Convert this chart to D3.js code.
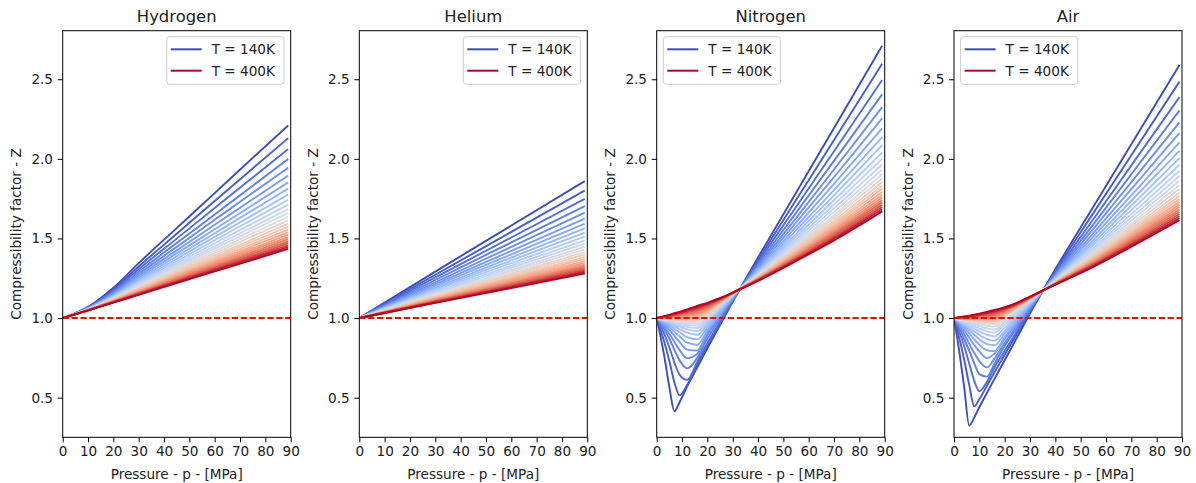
<!DOCTYPE html>
<html>
<head>
<meta charset="utf-8">
<script src="https://cdn.jsdelivr.net/npm/d3@7"></script>
<style>
  body { margin: 0; background: #fff; }
  text { font-family: "DejaVu Sans", sans-serif; }
</style>
</head>
<body>
<div id="chart"></div>
<script>
// ---- data ----
var gasNames = ["Hydrogen", "Helium", "Nitrogen", "Air"];
var temps = [140, 150, 160, 170, 180, 190, 200, 210, 220, 230, 240, 250, 260, 270,
             280, 290, 300, 310, 320, 330, 340, 350, 360, 370, 380, 390, 400];
var xTicks = [0, 10, 20, 30, 40, 50, 60, 70, 80, 90];
var yTicks = [0.5, 1.0, 1.5, 2.0, 2.5];

// pressure samples (MPa) for each gas
var pressH2 = [0, 10, 20, 30, 45, 60, 75, 89];
var pressHe = [0, 30, 60, 89];
var pressN2 = [0, 3, 5, 7, 9, 12, 16, 20, 25, 30, 40, 55, 70, 89];
var pressAir = [0, 2, 4, 6, 8, 10, 13, 16, 20, 25, 30, 40, 55, 70, 89];

// Z, one row per temperature
var zH2 = [
  [1, 1.070, 1.190, 1.345, 1.565, 1.785, 2.006, 2.210],
  [1, 1.068, 1.180, 1.324, 1.529, 1.735, 1.940, 2.130],
  [1, 1.066, 1.172, 1.307, 1.499, 1.691, 1.883, 2.061],
  [1, 1.064, 1.164, 1.291, 1.471, 1.651, 1.831, 1.999],
  [1, 1.062, 1.158, 1.277, 1.447, 1.617, 1.787, 1.945],
  [1, 1.061, 1.152, 1.264, 1.425, 1.586, 1.746, 1.896],
  [1, 1.060, 1.147, 1.253, 1.406, 1.558, 1.710, 1.852],
  [1, 1.059, 1.142, 1.243, 1.388, 1.533, 1.678, 1.813],
  [1, 1.057, 1.138, 1.233, 1.372, 1.510, 1.647, 1.776],
  [1, 1.056, 1.134, 1.225, 1.357, 1.489, 1.620, 1.743],
  [1, 1.056, 1.130, 1.217, 1.344, 1.470, 1.595, 1.713],
  [1, 1.055, 1.127, 1.210, 1.331, 1.452, 1.572, 1.685],
  [1, 1.054, 1.124, 1.204, 1.320, 1.436, 1.552, 1.660],
  [1, 1.053, 1.121, 1.198, 1.309, 1.421, 1.532, 1.636],
  [1, 1.053, 1.118, 1.192, 1.300, 1.407, 1.514, 1.614],
  [1, 1.052, 1.116, 1.186, 1.290, 1.393, 1.496, 1.593],
  [1, 1.052, 1.113, 1.182, 1.282, 1.381, 1.481, 1.574],
  [1, 1.051, 1.111, 1.177, 1.274, 1.370, 1.466, 1.556],
  [1, 1.051, 1.109, 1.173, 1.266, 1.359, 1.452, 1.539],
  [1, 1.050, 1.108, 1.169, 1.260, 1.350, 1.439, 1.524],
  [1, 1.050, 1.106, 1.165, 1.253, 1.340, 1.427, 1.509],
  [1, 1.050, 1.104, 1.161, 1.247, 1.331, 1.415, 1.495],
  [1, 1.049, 1.102, 1.158, 1.240, 1.322, 1.404, 1.481],
  [1, 1.049, 1.101, 1.155, 1.235, 1.315, 1.394, 1.469],
  [1, 1.048, 1.100, 1.152, 1.230, 1.307, 1.384, 1.457],
  [1, 1.048, 1.098, 1.149, 1.225, 1.300, 1.375, 1.446],
  [1, 1.048, 1.097, 1.146, 1.220, 1.293, 1.366, 1.435]
];

var zHe = [
  [1, 1.292, 1.581, 1.860], [1, 1.272, 1.541, 1.801], [1, 1.255, 1.506, 1.749],
  [1, 1.239, 1.475, 1.703], [1, 1.225, 1.447, 1.662], [1, 1.213, 1.422, 1.625],
  [1, 1.202, 1.400, 1.593], [1, 1.191, 1.380, 1.563], [1, 1.182, 1.362, 1.536],
  [1, 1.174, 1.345, 1.511], [1, 1.166, 1.329, 1.488], [1, 1.159, 1.316, 1.468],
  [1, 1.152, 1.302, 1.448], [1, 1.147, 1.291, 1.431], [1, 1.141, 1.279, 1.414],
  [1, 1.136, 1.269, 1.399], [1, 1.131, 1.259, 1.384], [1, 1.126, 1.250, 1.371],
  [1, 1.122, 1.242, 1.358], [1, 1.118, 1.234, 1.347], [1, 1.114, 1.226, 1.335],
  [1, 1.111, 1.219, 1.325], [1, 1.107, 1.213, 1.315], [1, 1.104, 1.207, 1.306],
  [1, 1.101, 1.200, 1.297], [1, 1.098, 1.194, 1.288], [1, 1.095, 1.189, 1.280]
];

var zN2 = [
  [1, 0.760, 0.565, 0.415, 0.470, 0.570, 0.690, 0.810, 0.956, 1.102, 1.380, 1.787, 2.194, 2.710],
  [1, 0.850, 0.730, 0.595, 0.515, 0.580, 0.705, 0.825, 0.965, 1.106, 1.364, 1.741, 2.118, 2.598],
  [1, 0.900, 0.815, 0.720, 0.645, 0.612, 0.725, 0.842, 0.977, 1.110, 1.350, 1.698, 2.048, 2.495],
  [1, 0.930, 0.870, 0.800, 0.735, 0.684, 0.750, 0.870, 0.994, 1.117, 1.337, 1.661, 1.987, 2.405],
  [1, 0.945, 0.900, 0.850, 0.800, 0.748, 0.775, 0.893, 1.008, 1.123, 1.326, 1.628, 1.933, 2.325],
  [1, 0.958, 0.925, 0.888, 0.850, 0.802, 0.796, 0.910, 1.020, 1.127, 1.316, 1.599, 1.885, 2.255],
  [1, 0.967, 0.942, 0.913, 0.885, 0.845, 0.832, 0.922, 1.028, 1.130, 1.307, 1.573, 1.843, 2.192],
  [1, 0.974, 0.955, 0.933, 0.911, 0.880, 0.866, 0.940, 1.040, 1.135, 1.299, 1.550, 1.804, 2.136],
  [1, 0.979, 0.965, 0.948, 0.931, 0.908, 0.895, 0.958, 1.050, 1.140, 1.292, 1.529, 1.771, 2.086],
  [1, 0.984, 0.972, 0.959, 0.946, 0.929, 0.918, 0.973, 1.059, 1.142, 1.286, 1.511, 1.740, 2.041],
  [1, 0.987, 0.978, 0.968, 0.958, 0.945, 0.937, 0.987, 1.068, 1.145, 1.281, 1.494, 1.713, 2.001],
  [1, 0.990, 0.982, 0.975, 0.967, 0.957, 0.952, 0.998, 1.076, 1.148, 1.275, 1.480, 1.689, 1.965],
  [1, 0.992, 0.986, 0.980, 0.974, 0.967, 0.965, 1.008, 1.082, 1.150, 1.271, 1.466, 1.667, 1.933],
  [1, 0.994, 0.989, 0.984, 0.979, 0.975, 0.976, 1.016, 1.087, 1.152, 1.267, 1.454, 1.647, 1.904],
  [1, 0.995, 0.991, 0.988, 0.984, 0.981, 0.984, 1.022, 1.090, 1.153, 1.263, 1.444, 1.630, 1.878],
  [1, 0.997, 0.994, 0.991, 0.988, 0.987, 0.991, 1.028, 1.093, 1.153, 1.260, 1.434, 1.613, 1.854],
  [1, 0.998, 0.996, 0.995, 0.993, 0.993, 0.999, 1.034, 1.096, 1.154, 1.257, 1.424, 1.598, 1.832],
  [1, 1.000, 0.999, 0.998, 0.997, 0.999, 1.007, 1.041, 1.099, 1.154, 1.254, 1.416, 1.585, 1.812],
  [1, 1.001, 1.001, 1.002, 1.002, 1.005, 1.014, 1.047, 1.102, 1.155, 1.251, 1.408, 1.572, 1.793],
  [1, 1.002, 1.003, 1.005, 1.007, 1.011, 1.022, 1.053, 1.105, 1.156, 1.249, 1.401, 1.559, 1.775],
  [1, 1.004, 1.006, 1.009, 1.011, 1.018, 1.030, 1.059, 1.108, 1.156, 1.246, 1.394, 1.548, 1.758],
  [1, 1.005, 1.008, 1.012, 1.016, 1.024, 1.038, 1.065, 1.111, 1.157, 1.244, 1.387, 1.537, 1.742],
  [1, 1.006, 1.010, 1.016, 1.021, 1.030, 1.045, 1.071, 1.114, 1.158, 1.242, 1.381, 1.527, 1.727],
  [1, 1.008, 1.013, 1.019, 1.025, 1.036, 1.053, 1.078, 1.117, 1.158, 1.240, 1.375, 1.517, 1.712],
  [1, 1.009, 1.015, 1.023, 1.030, 1.042, 1.061, 1.084, 1.120, 1.159, 1.238, 1.369, 1.507, 1.698],
  [1, 1.011, 1.018, 1.026, 1.034, 1.048, 1.068, 1.090, 1.123, 1.159, 1.236, 1.363, 1.498, 1.684],
  [1, 1.012, 1.020, 1.030, 1.039, 1.054, 1.076, 1.096, 1.126, 1.160, 1.234, 1.358, 1.488, 1.670]
];

var zAir = [
  [1, 0.800, 0.570, 0.325, 0.375, 0.440, 0.530, 0.618, 0.735, 0.882, 1.028, 1.306, 1.699, 2.092, 2.590],
  [1, 0.880, 0.740, 0.580, 0.445, 0.490, 0.575, 0.660, 0.770, 0.904, 1.040, 1.296, 1.659, 2.023, 2.485],
  [1, 0.920, 0.825, 0.715, 0.605, 0.540, 0.600, 0.690, 0.794, 0.921, 1.048, 1.286, 1.621, 1.959, 2.388],
  [1, 0.940, 0.870, 0.795, 0.715, 0.648, 0.632, 0.715, 0.824, 0.941, 1.058, 1.278, 1.588, 1.903, 2.304],
  [1, 0.955, 0.900, 0.840, 0.780, 0.730, 0.690, 0.745, 0.844, 0.954, 1.065, 1.270, 1.560, 1.854, 2.229],
  [1, 0.964, 0.922, 0.877, 0.830, 0.790, 0.748, 0.778, 0.868, 0.970, 1.073, 1.264, 1.534, 1.810, 2.163],
  [1, 0.971, 0.938, 0.903, 0.866, 0.832, 0.798, 0.792, 0.880, 0.982, 1.079, 1.258, 1.511, 1.771, 2.104],
  [1, 0.976, 0.951, 0.923, 0.895, 0.867, 0.836, 0.829, 0.902, 0.997, 1.086, 1.253, 1.491, 1.737, 2.052],
  [1, 0.980, 0.960, 0.938, 0.916, 0.894, 0.868, 0.858, 0.920, 1.008, 1.092, 1.248, 1.473, 1.706, 2.005],
  [1, 0.984, 0.967, 0.950, 0.933, 0.916, 0.895, 0.885, 0.940, 1.020, 1.098, 1.244, 1.457, 1.678, 1.963],
  [1, 0.987, 0.973, 0.960, 0.947, 0.934, 0.917, 0.908, 0.960, 1.031, 1.103, 1.240, 1.442, 1.653, 1.925],
  [1, 0.989, 0.978, 0.968, 0.958, 0.949, 0.936, 0.928, 0.975, 1.041, 1.107, 1.237, 1.429, 1.631, 1.892],
  [1, 0.991, 0.983, 0.975, 0.968, 0.961, 0.952, 0.946, 0.988, 1.050, 1.111, 1.234, 1.417, 1.611, 1.862],
  [1, 0.993, 0.987, 0.981, 0.976, 0.971, 0.965, 0.961, 1.000, 1.058, 1.115, 1.231, 1.407, 1.593, 1.834],
  [1, 0.994, 0.989, 0.984, 0.979, 0.975, 0.971, 0.968, 1.005, 1.061, 1.117, 1.229, 1.397, 1.577, 1.810],
  [1, 0.995, 0.991, 0.986, 0.983, 0.980, 0.976, 0.975, 1.010, 1.064, 1.118, 1.227, 1.389, 1.562, 1.788],
  [1, 0.996, 0.992, 0.989, 0.986, 0.984, 0.982, 0.982, 1.016, 1.067, 1.120, 1.225, 1.381, 1.548, 1.767],
  [1, 0.997, 0.994, 0.991, 0.990, 0.989, 0.988, 0.989, 1.021, 1.070, 1.121, 1.223, 1.373, 1.536, 1.748],
  [1, 0.998, 0.996, 0.994, 0.993, 0.993, 0.993, 0.996, 1.026, 1.073, 1.123, 1.221, 1.366, 1.524, 1.730],
  [1, 0.999, 0.998, 0.997, 0.997, 0.997, 0.999, 1.003, 1.031, 1.076, 1.124, 1.219, 1.360, 1.513, 1.713],
  [1, 1.000, 0.999, 0.999, 1.000, 1.002, 1.005, 1.009, 1.037, 1.079, 1.126, 1.218, 1.354, 1.502, 1.697],
  [1, 1.000, 1.001, 1.002, 1.004, 1.006, 1.011, 1.016, 1.042, 1.082, 1.127, 1.216, 1.348, 1.493, 1.682],
  [1, 1.001, 1.003, 1.005, 1.007, 1.010, 1.016, 1.023, 1.047, 1.085, 1.129, 1.215, 1.342, 1.483, 1.668],
  [1, 1.002, 1.005, 1.007, 1.011, 1.015, 1.022, 1.030, 1.052, 1.088, 1.130, 1.214, 1.337, 1.474, 1.654],
  [1, 1.003, 1.006, 1.010, 1.014, 1.019, 1.028, 1.037, 1.058, 1.091, 1.132, 1.212, 1.332, 1.465, 1.641],
  [1, 1.004, 1.008, 1.012, 1.018, 1.024, 1.033, 1.044, 1.063, 1.094, 1.133, 1.211, 1.327, 1.457, 1.628],
  [1, 1.005, 1.010, 1.015, 1.021, 1.028, 1.039, 1.051, 1.068, 1.097, 1.135, 1.210, 1.322, 1.448, 1.615]
];

var panels = [
  {name: gasNames[0], p: pressH2, z: zH2, legend: "right"},
  {name: gasNames[1], p: pressHe, z: zHe, legend: "right"},
  {name: gasNames[2], p: pressN2, z: zN2, legend: "left"},
  {name: gasNames[3], p: pressAir, z: zAir, legend: "left"}
];

// ---- layout ----
var W = 1196, H = 483;
var panelLeft = [62.7, 359.3, 656.7, 954],
    panelW = 228,
    plotTop = 30.7, plotBottom = 437.3;

// matplotlib "coolwarm"
var coolwarm = d3.piecewise(d3.interpolateRgb, ["#3b4cc0", "#6282ea", "#8db0fe", "#b9d0f9",
  "#dddcdc", "#f5c4ac", "#f49a7b", "#de604d", "#b40426"]);
var color = function(i) { return coolwarm(i / (temps.length - 1)); };

var svg = d3.select("#chart").append("svg")
    .attr("width", W)
    .attr("height", H);

var y = d3.scaleLinear().domain([0.251, 2.805]).range([plotBottom, plotTop]);

panels.forEach(function(panel, k) {
  var x0 = panelLeft[k];
  var x = d3.scaleLinear().domain([0, 90]).range([x0, x0 + panelW]);

  var clipId = "clip" + k;
  svg.append("clipPath").attr("id", clipId)
    .append("rect")
      .attr("x", x0).attr("y", plotTop)
      .attr("width", panelW).attr("height", plotBottom - plotTop);

  var line = d3.line()
      .x(function(d) { return x(d[0]); })
      .y(function(d) { return y(d[1]); })
      .curve(d3.curveMonotoneX);

  var g = svg.append("g").attr("clip-path", "url(#" + clipId + ")");

  g.selectAll("path.curve")
    .data(panel.z)
    .enter().append("path")
      .attr("class", "curve")
      .attr("fill", "none")
      .attr("stroke", function(d, i) { return color(i); })
      .attr("stroke-width", 1.9)
      .attr("d", function(row) {
        return line(row.map(function(v, j) { return [panel.p[j], v]; }));
      });

  // Z = 1 reference
  g.append("line")
      .attr("x1", x(0)).attr("x2", x(90))
      .attr("y1", y(1)).attr("y2", y(1))
      .attr("stroke", "#ff0000")
      .attr("stroke-width", 1.9)
      .attr("stroke-dasharray", "6.2,2.7");

  // axes
  var xAxis = svg.append("g")
      .attr("transform", "translate(0," + plotBottom + ")")
      .call(d3.axisBottom(x).tickValues(xTicks).tickSize(5).tickPadding(4.5)
        .tickFormat(d3.format("d")));
  var yAxis = svg.append("g")
      .attr("transform", "translate(" + x0 + ",0)")
      .call(d3.axisLeft(y).tickValues(yTicks).tickSize(5).tickPadding(4.7)
        .tickFormat(d3.format(".1f")));
  [xAxis, yAxis].forEach(function(a) {
    a.select(".domain").remove();
    a.selectAll("line").attr("stroke", "#000").attr("stroke-width", 1);
    a.selectAll("text").attr("fill", "#222").attr("font-size", "13.6px")
      .attr("font-family", "DejaVu Sans, sans-serif");
  });

  svg.append("rect")
      .attr("x", x0).attr("y", plotTop)
      .attr("width", panelW).attr("height", plotBottom - plotTop)
      .attr("fill", "none").attr("stroke", "#000").attr("stroke-width", 1);

  // titles and labels
  svg.append("text")
      .attr("x", x0 + panelW / 2).attr("y", 22)
      .attr("text-anchor", "middle")
      .attr("font-size", "16.4px")
      .attr("fill", "#222")
      .text(panel.name);

  svg.append("text")
      .attr("x", x0 + panelW / 2).attr("y", 478.5)
      .attr("text-anchor", "middle")
      .attr("font-size", "13.6px")
      .attr("fill", "#222")
      .text("Pressure - p - [MPa]");

  svg.append("text")
      .attr("transform", "translate(" + (x0 - 41.5) + "," + ((plotTop + plotBottom) / 2) + ") rotate(-90)")
      .attr("text-anchor", "middle")
      .attr("font-size", "13.6px")
      .attr("fill", "#222")
      .text("Compressibility factor - Z");

  // legend
  var lw = 117.3, lh = 47.6;
  var lx = panel.legend === "right" ? x0 + panelW - 6.7 - lw : x0 + 6.6;
  var ly = 36.7;
  var leg = svg.append("g").attr("transform", "translate(" + lx + "," + ly + ")");
  leg.append("rect")
      .attr("width", lw).attr("height", lh).attr("rx", 3)
      .attr("fill", "#fff").attr("fill-opacity", 0.8)
      .attr("stroke", "#cccccc").attr("stroke-width", 1);
  var entries = [
    {label: "T = " + temps[0] + "K", c: color(0)},
    {label: "T = " + temps[temps.length - 1] + "K", c: color(temps.length - 1)}
  ];
  entries.forEach(function(e, i) {
    var yy = 12.6 + i * 21.4;
    leg.append("line")
        .attr("x1", 4).attr("x2", 35)
        .attr("y1", yy).attr("y2", yy)
        .attr("stroke", e.c).attr("stroke-width", 2);
    leg.append("text")
        .attr("x", 45).attr("y", yy).attr("dy", "0.36em")
        .attr("font-size", "13.6px")
        .attr("fill", "#222")
        .text(e.label);
  });
});
</script>
</body>
</html>
